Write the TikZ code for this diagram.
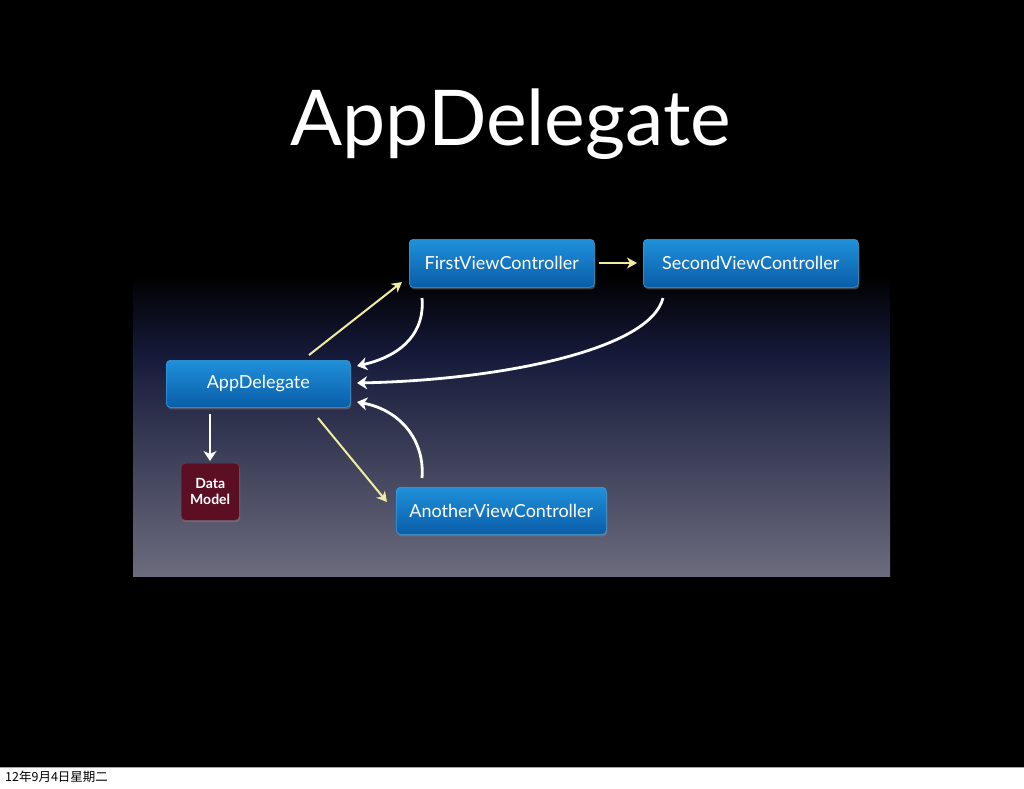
\documentclass[tikz,border=0pt]{standalone}
\usepackage{fontspec}
\setmainfont{Lato}
\newfontfamily\cjkfont{Noto Sans CJK SC}
\usetikzlibrary{arrows.meta,shadows}
\definecolor{boxtop}{HTML}{2090DA}
\definecolor{boxbot}{HTML}{0A5DA8}
\definecolor{boxedge}{HTML}{3A9FE0}
\definecolor{dmred}{HTML}{5C0E22}
\definecolor{pale}{HTML}{F2EBA0}
\definecolor{panelmid}{HTML}{161A3A}
\definecolor{panelbot}{HTML}{6C6C7E}
\tikzset{
  vcbox/.style={rectangle, rounded corners=4pt, top color=boxtop, bottom color=boxbot,
    draw=boxedge, line width=0.6pt, text=white, font=\fontsize{18}{20}\selectfont,
    anchor=north west, inner sep=0pt, drop shadow={shadow xshift=1pt, shadow yshift=-2pt, opacity=0.5}},
  dmbox/.style={rectangle, rounded corners=4pt, fill=dmred, draw=dmred!80!white,
    text=white, font=\bfseries\fontsize{14}{16}\selectfont, align=center,
    anchor=north west, inner sep=0pt, drop shadow={shadow xshift=1pt, shadow yshift=-2pt, opacity=0.5}},
  warrow/.style={draw=white, line width=2.8pt, -{Stealth[length=10pt,width=13pt,inset=3pt]}},
  yarrow/.style={draw=pale, line width=2pt, -{Stealth[length=10pt,width=11pt,inset=3pt]}},
}
\begin{document}
\begin{tikzpicture}[x=1pt,y=-1pt]
\useasboundingbox (0,0) rectangle (1024,788);
\fill[white] (0,0) rectangle (1024,788);
\fill[black] (0,0) rectangle (1024,767);
\draw[gray!70, line width=1pt] (0,767.5) -- (1024,767.5);
% panel
\shade[top color=black, bottom color=black] (133,235) rectangle (890,275);
\shade[top color=black, bottom color=panelmid] (133,274.5) rectangle (890,355);
\shade[top color=panelmid, bottom color=panelbot] (133,354.5) rectangle (890,576);
% title
\node[text=white, font=\fontsize{77}{86}\selectfont, anchor=base] (title) at (511,145) {AppDelegate};
% boxes
\node[vcbox, minimum width=185pt, minimum height=48pt] (first) at (409,239) {FirstViewController};
\node[vcbox, minimum width=215pt, minimum height=48pt] (second) at (643,239) {SecondViewController};
\node[vcbox, minimum width=184pt, minimum height=47pt] (app) at (166,360) {AppDelegate};
\node[vcbox, minimum width=210pt, minimum height=47pt] (another) at (396,487) {AnotherViewController};
\node[dmbox, minimum width=58pt, minimum height=57pt] (dm) at (181,463) {Data\\Model};
% arrow anchors
\coordinate (a1s) at (309,355);
\coordinate (a1e) at (402,282);
\coordinate (a2s) at (599,263);
\coordinate (a2e) at (637,263);
\coordinate (f1s) at (422,298);
\coordinate (f1e) at (357,366);
\coordinate (s1s) at (663,298);
\coordinate (s1e) at (357,383);
\coordinate (n1s) at (422,478);
\coordinate (n1e) at (357,402);
\coordinate (y2s) at (318,418);
\coordinate (y2e) at (387,502);
\coordinate (d1s) at (210,414);
\coordinate (d1e) at (210,461);
% connectors
\draw[yarrow] (a1s) -- (a1e);
\draw[yarrow] (a2s) -- (a2e);
\draw[yarrow] (y2s) -- (y2e);
\draw[warrow] (f1s) .. controls (425,330) and (405,355) .. (f1e);
\draw[warrow] (s1s) .. controls (650,350) and (500,380) .. (s1e);
\draw[warrow] (n1s) .. controls (425,440) and (400,410) .. (n1e);
\draw[warrow] (d1s) -- (d1e);
% footer
\node[anchor=west, font=\cjkfont\fontsize{12.5}{14}\selectfont, text=black, inner sep=0pt] (foot) at (5,777) {12年9月4日星期二};
\end{tikzpicture}
\end{document}
